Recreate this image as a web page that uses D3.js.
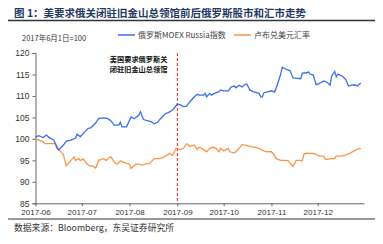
<!DOCTYPE html>
<html><head><meta charset="utf-8">
<script src="https://cdn.jsdelivr.net/npm/d3@7"></script>
<style>body{margin:0;background:#fff}svg{display:block}</style>
</head><body>
<script>
const moexDates=["2017-06-01","2017-06-03","2017-06-06","2017-06-08","2017-06-10","2017-06-13","2017-06-15","2017-06-16","2017-06-19","2017-06-21","2017-06-24","2017-06-27","2017-06-28","2017-06-30","2017-07-03","2017-07-05","2017-07-07","2017-07-10","2017-07-12","2017-07-15","2017-07-18","2017-07-20","2017-07-22","2017-07-25","2017-07-26","2017-07-27","2017-07-30","2017-08-02","2017-08-04","2017-08-07","2017-08-08","2017-08-10","2017-08-13","2017-08-15","2017-08-17","2017-08-19","2017-08-21","2017-08-24","2017-08-27","2017-08-29","2017-09-01","2017-09-03","2017-09-05","2017-09-07","2017-09-09","2017-09-10","2017-09-12","2017-09-14","2017-09-15","2017-09-18","2017-09-19","2017-09-20","2017-09-22","2017-09-23","2017-09-25","2017-09-28","2017-09-29","2017-10-01","2017-10-04","2017-10-06","2017-10-08","2017-10-09","2017-10-11","2017-10-13","2017-10-15","2017-10-16","2017-10-18","2017-10-20","2017-10-24","2017-10-25","2017-10-26","2017-10-27","2017-10-30","2017-11-01","2017-11-03","2017-11-05","2017-11-07","2017-11-08","2017-11-09","2017-11-11","2017-11-13","2017-11-15","2017-11-20","2017-11-21","2017-11-24","2017-11-25","2017-11-26","2017-11-28","2017-11-30","2017-12-03","2017-12-05","2017-12-07","2017-12-09","2017-12-10","2017-12-12","2017-12-13","2017-12-14","2017-12-17","2017-12-19","2017-12-21","2017-12-23","2017-12-25","2017-12-27","2017-12-28","2017-12-29"];
const moexValues=[100.4,100.75,100.3,100.9,100.3,99.7,97.8,97.4,98.5,99.5,99.7,100.2,101.1,100.5,101.7,102.4,102.6,103.7,104.8,104.9,104.7,104.2,103.2,103.2,103.9,102.8,102.8,105.1,104.7,105.5,106.3,104.5,104.2,104.0,103.5,103.8,104.7,105.8,106.3,106.8,108.1,107.9,107.5,107.6,108.6,109.0,109.8,110.4,110.2,110.2,110.6,109.8,110.6,110.2,110.6,111.0,111.4,111.2,111.2,112.1,112.3,111.9,112.5,112.1,112.7,112.8,111.4,111.0,110.6,109.8,109.7,110.7,111.0,111.2,110.9,112.8,115.1,116.7,116.5,116.1,115.9,114.2,114.0,115.3,115.4,115.6,115.1,114.9,112.6,113.1,113.5,113.2,112.5,114.6,115.7,114.5,115.1,114.6,113.9,112.3,112.5,112.6,112.3,112.8,112.9];
const rubDates=["2017-06-01","2017-06-02","2017-06-06","2017-06-07","2017-06-10","2017-06-14","2017-06-16","2017-06-19","2017-06-20","2017-06-21","2017-06-23","2017-06-26","2017-06-27","2017-06-29","2017-06-30","2017-07-02","2017-07-04","2017-07-06","2017-07-08","2017-07-10","2017-07-12","2017-07-15","2017-07-17","2017-07-19","2017-07-20","2017-07-22","2017-07-24","2017-07-26","2017-07-29","2017-08-01","2017-08-02","2017-08-05","2017-08-07","2017-08-09","2017-08-11","2017-08-14","2017-08-17","2017-08-20","2017-08-23","2017-08-27","2017-08-29","2017-08-31","2017-09-03","2017-09-05","2017-09-07","2017-09-09","2017-09-12","2017-09-14","2017-09-15","2017-09-18","2017-09-20","2017-09-22","2017-09-24","2017-09-26","2017-09-28","2017-09-29","2017-10-01","2017-10-04","2017-10-05","2017-10-08","2017-10-10","2017-10-13","2017-10-17","2017-10-21","2017-10-24","2017-10-27","2017-10-29","2017-11-01","2017-11-03","2017-11-04","2017-11-07","2017-11-10","2017-11-12","2017-11-14","2017-11-15","2017-11-17","2017-11-19","2017-11-21","2017-11-22","2017-11-24","2017-11-28","2017-11-30","2017-12-02","2017-12-05","2017-12-06","2017-12-10","2017-12-12","2017-12-13","2017-12-16","2017-12-19","2017-12-22","2017-12-26","2017-12-29"];
const rubValues=[100,99.9,99.3,98.9,98.9,98.9,97.5,96.4,95.0,93.7,94.6,95.8,95.0,95.4,95.0,95.3,94.3,93.7,93.7,93.2,95.0,95.4,95.0,95.7,95.8,94.6,94.1,94.9,94.4,94.1,93.1,94.1,94.1,93.9,94.1,94.3,95.4,95.4,95.7,96.6,96.1,97.8,97.5,97.8,98.9,98.3,98.5,97.5,98.1,97.5,97.0,97.8,98.1,97.8,97.0,97.8,97.2,97.8,97.0,96.7,97.4,98.7,98.3,98.1,97.8,97.2,97.0,97.0,96.2,95.4,95.0,95.0,94.9,93.9,93.6,95.0,95.0,94.9,96.4,96.7,96.6,96.4,96.0,96.0,95.2,95.4,95.4,96.0,96.0,96.2,96.7,97.5,97.8];
const yTicks=[85,90,95,100,105,110,115,120];
const xTickLabels=["2017-06","2017-07","2017-08","2017-09","2017-10","2017-11","2017-12"];
const seriesNames=["俄罗斯MOEX Russia指数","卢布兑美元汇率"];
const eventDate="2017-09-01";
const eventLabel=["美国要求俄罗斯关","闭驻旧金山总领馆"];
const titleText="图 1：美要求俄关闭驻旧金山总领馆前后俄罗斯股市和汇市走势";
const baseText="2017年6月1日=100";
const sourceText="数据来源：Bloomberg，东吴证券研究所";

const W=383,H=244;
const parse=d3.timeParse("%Y-%m-%d");
const svg=d3.select("body").append("svg").attr("width",W).attr("height",H);
const cjk="'Noto Sans CJK SC','Noto Sans',sans-serif";
const lat="'Liberation Sans',Arial,sans-serif";
const blue="#3d6ef2", orange="#f7964a";

svg.append("text").attr("x",14).attr("y",16.5).attr("font-family",cjk).attr("font-weight",700)
  .attr("font-size",10.5).attr("fill","#1f3a63").text(titleText);
svg.append("line").attr("x1",8).attr("x2",375).attr("y1",20.5).attr("y2",20.5).attr("stroke","#333").attr("stroke-width",1.5);
svg.append("line").attr("x1",8).attr("x2",375).attr("y1",219).attr("y2",219).attr("stroke","#333").attr("stroke-width",1.2);
svg.append("text").attr("x",14).attr("y",231).attr("font-family",cjk).attr("font-size",8.8).attr("fill","#333").text(sourceText);

const x=d3.scaleTime().domain([parse("2017-06-01"),parse("2017-12-31")]).range([35.5,364]);
const y=d3.scaleLinear().domain([85,120]).range([203.3,53]);

svg.append("text").attr("x",22).attr("y",41).attr("font-family",cjk).attr("font-size",7.5).attr("fill","#333").text(baseText);

const yAxis=svg.append("g").attr("transform","translate(35.5,0)")
  .call(d3.axisLeft(y).tickValues(yTicks).tickSize(3).tickPadding(3));
yAxis.selectAll("text").attr("font-family",lat).attr("font-size",8.5).attr("fill","#333");
yAxis.selectAll("line,path").attr("stroke","#666");

const monthTicks=xTickLabels.map(s=>parse(s+"-01"));
const xAxis=svg.append("g").attr("transform","translate(0,203.3)")
  .call(d3.axisBottom(x).tickValues(monthTicks).tickFormat((d,i)=>xTickLabels[i]).tickSize(3).tickSizeOuter(0).tickPadding(3));
xAxis.selectAll("text").attr("font-family",lat).attr("font-size",8).attr("fill","#333");
xAxis.selectAll("line,path").attr("stroke","#666");

const ex=x(parse(eventDate));
svg.append("line").attr("x1",ex).attr("x2",ex).attr("y1",53).attr("y2",203).attr("stroke","#e8201f")
  .attr("stroke-width",1).attr("stroke-dasharray","3,2");
eventLabel.forEach((t,i)=>svg.append("text").attr("x",ex-10).attr("y",61.5+i*10).attr("text-anchor","end")
  .attr("font-family",cjk).attr("font-weight",700).attr("font-size",7.2).attr("fill","#111").text(t));

const line=d3.line().x(d=>x(d[0])).y(d=>y(d[1]));
const mo=moexDates.map((d,i)=>[parse(d),moexValues[i]]);
const ru=rubDates.map((d,i)=>[parse(d),rubValues[i]]);
svg.append("path").datum(ru).attr("d",line).attr("fill","none").attr("stroke",orange).attr("stroke-width",1.3);
svg.append("path").datum(mo).attr("d",line).attr("fill","none").attr("stroke",blue).attr("stroke-width",1.3);

const lg=[[118,blue,seriesNames[0]],[234,orange,seriesNames[1]]];
lg.forEach(([lx,c,t])=>{
  svg.append("line").attr("x1",lx).attr("x2",lx+17).attr("y1",35).attr("y2",35).attr("stroke",c).attr("stroke-width",1.5);
  svg.append("text").attr("x",lx+20).attr("y",38).attr("font-family",cjk).attr("font-size",8).attr("fill","#444").text(t);
});
</script>
</body></html>
